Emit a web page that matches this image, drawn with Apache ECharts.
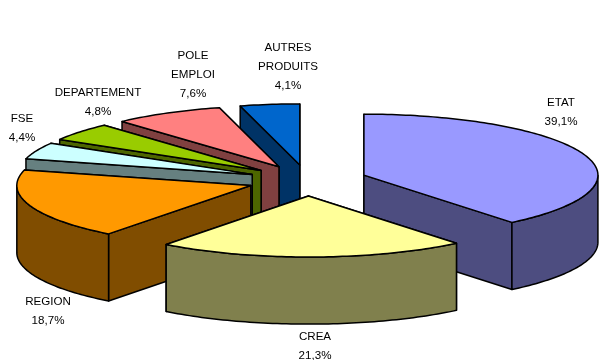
<!DOCTYPE html>
<html>
<head>
<meta charset="utf-8">
<title>Répartition des produits</title>
<script src="https://cdn.jsdelivr.net/npm/echarts@6/dist/echarts.min.js"></script>
<style>
  html, body { margin: 0; padding: 0; background: #fff; }
  #chart { width: 600px; height: 360px; }
</style>
</head>
<body>
<div id="chart"></div>
<script>
// data, clockwise from 12 o'clock
const categories = ["ETAT", "CREA", "REGION", "FSE", "DEPARTEMENT", "POLE\nEMPLOI", "AUTRES\nPRODUITS"];
const shares = [39.1, 21.3, 18.7, 4.4, 4.8, 7.6, 4.1];

const topColors = ["#9999ff", "#ffff99", "#ff9900", "#ccffff", "#99cc00", "#ff8080", "#0066cc"];
const sideColors = ["#4d4d80", "#80804d", "#804d00", "#668080", "#4d6600", "#804040", "#003366"];
// centre of each text block, in pixels
const labelAnchors = [[561, 112], [315, 346], [48, 311], [22, 128], [98, 102], [193, 75], [288, 67]];

const EXPLODE = 0.256;   // pull-out of each slice, in radii
const DEPTH = 1.1;       // pie thickness, in y axis units
const total = shares.reduce((a, b) => a + b, 0);

let acc = 0;
const rows = shares.map((v) => {
  const row = [acc, v];
  acc += v;
  return row;
});

function toRad(pct) {
  return pct / total * Math.PI * 2;
}

function renderSlice(params, api) {
  const i = params.dataIndex;
  const a0 = toRad(api.value(0));
  const a1 = toRad(api.value(0) + api.value(1));
  const mid = (a0 + a1) / 2;
  const ox = EXPLODE * Math.sin(mid);
  const oy = EXPLODE * Math.cos(mid);

  const up = (a) => [ox + Math.sin(a), oy + Math.cos(a)];
  const apex = [ox, oy];
  const px = (p, d) => api.coord([p[0], p[1] - (d || 0)]);

  const steps = Math.max(4, Math.ceil((a1 - a0) / 0.02));
  const arc = [];
  for (let k = 0; k <= steps; k++) arc.push(a0 + (a1 - a0) * k / steps);

  const base = Math.round((1 - oy) * 100) * 10;
  const poly = (points, fill, z) => ({
    type: "polygon",
    z2: base + z,
    shape: { points: points },
    style: { fill: fill, stroke: "#000", lineWidth: 1.5, lineJoin: "round" }
  });

  const cutFace = (a) => [px(apex), px(up(a)), px(up(a), DEPTH), px(apex, DEPTH)];
  const children = [];

  // the cut whose rim sits lower on screen is the one that shows
  const cuts = [a0, a1].sort((p, q) => up(q)[1] - up(p)[1]);
  children.push(poly(cutFace(cuts[0]), sideColors[i], 0));
  children.push(poly(cutFace(cuts[1]), sideColors[i], 1));

  // outer wall, front half only
  const front = arc.filter((a) => Math.cos(a) <= 0);
  if (front.length > 1) {
    const rim = front.map((a) => px(up(a)));
    const low = front.map((a) => px(up(a), DEPTH)).reverse();
    children.push(poly(rim.concat(low), sideColors[i], 2));
  }

  children.push(poly([px(apex)].concat(arc.map((a) => px(up(a)))), topColors[i], 3));
  return { type: "group", children: children };
}

const labels = categories.map((name, i) => ({
  type: "text",
  z: 100,
  style: {
    text: name + "\n" + shares[i].toFixed(1).replace(".", ",") + "%",
    x: labelAnchors[i][0],
    y: labelAnchors[i][1],
    textAlign: "center",
    textVerticalAlign: "middle",
    font: '11.6px "Liberation Sans", Arial, sans-serif',
    lineHeight: 19,
    fill: "#000"
  }
}));

const mychart = echarts.init(document.getElementById("chart"));
mychart.setOption({
  animation: false,
  backgroundColor: "#fff",
  // one x unit = 234px, one y unit = 61px, origin at (307.5, 180.4)
  grid: { left: 10.32, top: 88.9, width: 594.36, height: 244, outerBoundsMode: "none" },
  xAxis: { type: "value", min: -1.27, max: 1.27, show: false },
  yAxis: { type: "value", min: -2.5, max: 1.5, show: false },
  graphic: labels,
  series: [
    {
      type: "custom",
      coordinateSystem: "cartesian2d",
      clip: false,
      silent: true,
      renderItem: renderSlice,
      data: rows
    }
  ]
});
</script>
</body>
</html>
